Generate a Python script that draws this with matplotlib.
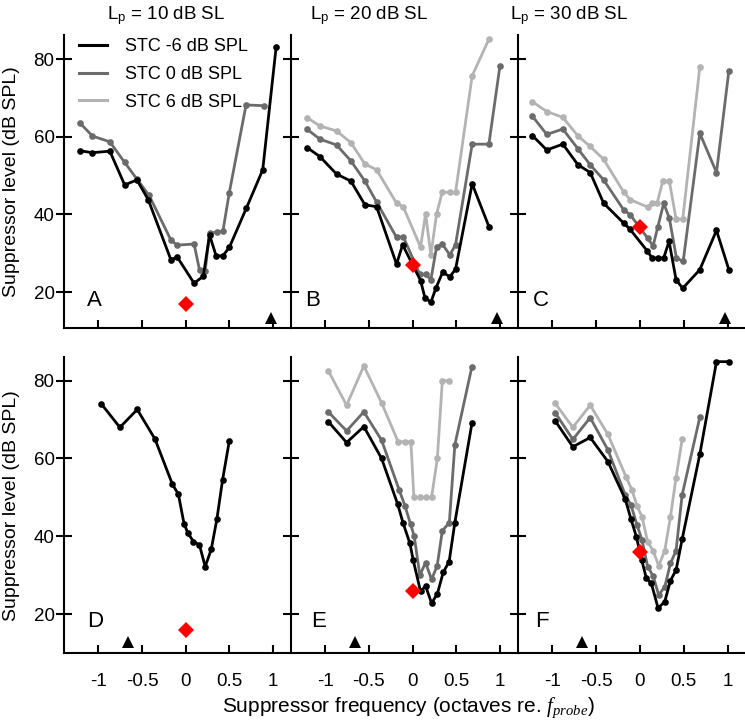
import matplotlib
matplotlib.use("Agg")
import matplotlib.pyplot as plt
from matplotlib.lines import Line2D

plt.rcParams['font.family'] = ['Liberation Sans', 'DejaVu Sans']
plt.rcParams['axes.unicode_minus'] = False
plt.rcParams['mathtext.fontset'] = 'custom'
plt.rcParams['mathtext.rm'] = 'Liberation Sans'
plt.rcParams['mathtext.it'] = 'Liberation Serif:italic'

# --- Dados (oitavas re. f_probe, dB SPL) ---
# Painel A (Lp = 10 dB SL, linha de cima)
xa_k = [-1.21, -1.07, -0.87, -0.70, -0.56, -0.43, -0.17, -0.10, 0.095, 0.20, 0.272, 0.348, 0.425, 0.498, 0.693, 0.881, 1.034]
ya_k = [56.4, 55.9, 56.3, 47.6, 48.9, 43.8, 28.3, 29.1, 22.3, 24.1, 34.7, 29.3, 29.4, 31.5, 41.6, 51.5, 83.0]
xa_g = [-1.21, -1.07, -0.87, -0.70, -0.56, -0.42, -0.17, -0.10, 0.095, 0.157, 0.222, 0.272, 0.356, 0.425, 0.498, 0.690, 0.893]
ya_g = [63.5, 60.2, 58.7, 53.4, 49.1, 44.9, 33.4, 32.1, 32.4, 25.7, 25.5, 35.3, 35.4, 35.7, 45.6, 68.2, 68.0]

# Painel B
xb_k = [-1.204, -1.059, -0.869, -0.705, -0.545, -0.411, -0.183, -0.114, 0.091, 0.141, 0.209, 0.266, 0.343, 0.426, 0.491, 0.681, 0.872]
yb_k = [57.2, 54.9, 50.4, 48.6, 42.5, 42.0, 27.2, 32.2, 23.0, 18.6, 17.4, 21.0, 25.1, 24.0, 25.9, 47.9, 36.9]
xb_g = [-1.204, -1.059, -0.869, -0.705, -0.545, -0.411, -0.183, -0.107, 0.083, 0.149, 0.209, 0.274, 0.339, 0.426, 0.491, 0.681, 0.872, 0.998]
yb_g = [61.9, 59.4, 57.9, 53.8, 48.6, 43.2, 34.1, 34.3, 24.6, 24.6, 23.2, 31.6, 32.4, 29.6, 32.2, 58.1, 58.1, 78.2]
xb_l = [-1.204, -1.059, -0.869, -0.705, -0.545, -0.411, -0.183, -0.107, 0.091, 0.149, 0.209, 0.274, 0.339, 0.426, 0.491, 0.681, 0.872]
yb_l = [64.9, 62.8, 61.5, 58.5, 53.0, 51.5, 42.9, 42.0, 31.6, 40.2, 29.6, 40.1, 45.7, 45.7, 45.7, 75.7, 85.1]

# Painel C
xc_k = [-1.225, -1.061, -0.878, -0.706, -0.566, -0.413, -0.185, -0.116, 0.082, 0.139, 0.204, 0.272, 0.333, 0.413, 0.489, 0.684, 0.874, 1.015]
yc_k = [60.3, 56.6, 58.1, 52.8, 50.8, 42.9, 37.8, 36.3, 30.7, 28.8, 28.8, 28.8, 33.1, 23.2, 21.0, 25.8, 35.9, 25.8]
xc_g = [-1.225, -1.061, -0.878, -0.706, -0.566, -0.413, -0.185, -0.109, 0.089, 0.151, 0.204, 0.272, 0.337, 0.417, 0.494, 0.684, 0.874, 1.015]
yc_g = [65.3, 60.6, 62.0, 56.9, 52.8, 48.9, 41.2, 39.9, 33.9, 31.9, 36.7, 42.9, 39.0, 28.8, 27.9, 60.9, 50.8, 77.0]
xc_l = [-1.225, -1.061, -0.878, -0.706, -0.566, -0.413, -0.185, -0.109, 0.089, 0.139, 0.196, 0.261, 0.337, 0.413, 0.489, 0.684]
yc_l = [69.0, 66.5, 65.0, 60.2, 57.5, 54.2, 45.8, 43.8, 41.9, 42.9, 42.9, 48.5, 48.5, 38.8, 38.8, 78.0]

# Painel D (linha de baixo)
xd_k = [-0.966, -0.755, -0.556, -0.353, -0.154, -0.085, -0.020, 0.023, 0.088, 0.156, 0.222, 0.291, 0.356, 0.421, 0.498]
yd_k = [74.0, 68.0, 72.6, 65.0, 53.4, 50.8, 43.2, 40.9, 38.6, 37.8, 32.2, 36.6, 44.4, 54.5, 64.5]

# Painel E
xe_k = [-0.964, -0.754, -0.557, -0.354, -0.171, -0.107, -0.031, 0.007, 0.091, 0.149, 0.217, 0.283, 0.350, 0.418, 0.483, 0.678]
ye_k = [69.5, 64.1, 68.2, 60.0, 48.3, 43.3, 38.2, 33.9, 25.8, 27.2, 22.8, 25.2, 30.7, 33.5, 43.5, 69.0]
xe_g = [-0.964, -0.754, -0.557, -0.354, -0.153, -0.088, -0.023, 0.018, 0.083, 0.149, 0.217, 0.281, 0.340, 0.420, 0.483, 0.676]
ye_g = [72.0, 67.1, 72.0, 64.7, 51.9, 47.9, 43.1, 40.1, 30.0, 33.2, 28.9, 32.4, 41.4, 43.5, 63.5, 83.4]
xe_l = [-0.964, -0.754, -0.557, -0.354, -0.165, -0.088, -0.019, 0.015, 0.083, 0.149, 0.217, 0.283, 0.340, 0.420]
ye_l = [82.6, 73.7, 83.8, 74.3, 64.3, 64.3, 64.3, 50.0, 50.0, 50.0, 50.0, 60.0, 80.0, 80.0]

# Painel F
xf_k = [-0.966, -0.764, -0.566, -0.364, -0.166, -0.101, -0.040, 0.020, 0.074, 0.131, 0.208, 0.284, 0.349, 0.413, 0.482, 0.684, 0.874, 1.015]
yf_k = [69.7, 63.0, 65.4, 59.2, 49.5, 44.4, 39.9, 34.0, 29.2, 27.9, 21.5, 23.2, 28.6, 31.3, 39.2, 61.1, 84.9, 84.9]
xf_g = [-0.966, -0.764, -0.566, -0.364, -0.166, -0.101, -0.032, 0.025, 0.089, 0.151, 0.215, 0.284, 0.349, 0.413, 0.482, 0.684]
yf_g = [71.8, 64.9, 70.5, 62.2, 50.6, 48.0, 42.9, 39.0, 32.2, 29.8, 24.9, 27.0, 33.0, 36.3, 50.6, 70.6]
xf_l = [-0.966, -0.764, -0.566, -0.364, -0.158, -0.090, -0.032, 0.025, 0.089, 0.151, 0.215, 0.284, 0.349, 0.413, 0.482]
yf_l = [74.2, 68.0, 73.7, 66.2, 55.3, 51.9, 47.8, 45.0, 38.6, 36.3, 32.4, 36.3, 45.0, 55.1, 64.9]

# Nível da sonda (losango vermelho) e marca triangular
probe_level = [17.0, 27.0, 36.9, 15.9, 25.8, 35.9]
tri_x = [0.97, 0.97, 0.97, -0.66, -0.66, -0.66]
tri_y = [13.3, 13.3, 13.3, 12.9, 12.9, 12.9]

titles = ['L$_{\\rm p}$ = 10 dB SL', 'L$_{\\rm p}$ = 20 dB SL', 'L$_{\\rm p}$ = 30 dB SL']
letters = ['A', 'B', 'C', 'D', 'E', 'F']
labels = ['STC -6 dB SPL', 'STC 0 dB SPL', 'STC 6 dB SPL']
colors = ['#000000', '#6b6b6b', '#b3b3b3']

panels = [
    [(xa_k, ya_k), (xa_g, ya_g), None],
    [(xb_k, yb_k), (xb_g, yb_g), (xb_l, yb_l)],
    [(xc_k, yc_k), (xc_g, yc_g), (xc_l, yc_l)],
    [(xd_k, yd_k), None, None],
    [(xe_k, ye_k), (xe_g, ye_g), (xe_l, ye_l)],
    [(xf_k, yf_k), (xf_g, yf_g), (xf_l, yf_l)],
]

# --- Figura ---
W, H = 745, 725
fig = plt.figure(figsize=(W / 100, H / 100), dpi=100)

col_left = [64, 290.5, 517.5]
col_w = [226.5, 227, 227.5]
row_top = [35, 357]
row_bot = [328.3, 653.3]
ylims = [(10.7, 86.2), (9.9, 86.1)]
letter_dx = [0.10, 0.064, 0.068, 0.10, 0.093, 0.077]
title_x = [166, 369, 569]

fs = 13.5
for i in range(6):
    r, c = divmod(i, 3)
    ax = fig.add_axes([col_left[c] / W, 1 - row_bot[r] / H,
                       col_w[c] / W, (row_bot[r] - row_top[r]) / H])
    for k in (2, 1, 0):
        s = panels[i][k]
        if s is None:
            continue
        ax.plot(s[0], s[1], color=colors[k], lw=2.0, marker='o', ms=4.8,
                markeredgewidth=0, zorder=3 + (2 - k))
    ax.plot([0], [probe_level[i]], marker='D', ms=8.5, color='#ff0000',
            markeredgewidth=0, zorder=10)
    ax.plot([tri_x[i]], [tri_y[i]], marker='^', ms=8.5, color='black',
            markeredgewidth=0, zorder=10, clip_on=False)

    ax.set_xlim(-1.395, 1.199)
    ax.set_ylim(*ylims[r])
    ax.set_xticks([-1, -0.5, 0, 0.5, 1])
    ax.set_xticklabels(['-1', '-0.5', '0', '0.5', '1'] if r == 1 else [])
    ax.set_yticks([20, 40, 60, 80])
    if c != 0:
        ax.set_yticklabels([])
    ax.spines['top'].set_visible(False)
    ax.spines['right'].set_visible(False)
    ax.spines['left'].set_linewidth(1.5)
    ax.spines['bottom'].set_linewidth(1.5)
    ax.tick_params(axis='y', direction='inout', length=11.5, width=1.5,
                   labelsize=fs, pad=1)
    ax.tick_params(axis='x', direction='in', length=5.5, width=1.5,
                   labelsize=fs, pad=14)
    ax.patch.set_alpha(0)

    ax.text(letter_dx[i], 0.06 if r == 0 else 0.072, letters[i],
            transform=ax.transAxes, fontsize=16, ha='left', va='bottom')

    if r == 0:
        fig.text(title_x[c] / W, 1 - 16 / H, titles[c],
                 fontsize=fs, ha='center', va='center')

    if i == 0:
        handles = [Line2D([], [], color=colors[k], lw=2.2) for k in range(3)]
        ax.legend(handles, labels, loc='upper left', frameon=False,
                  bbox_to_anchor=(-0.005, 1.045), fontsize=fs - 0.5,
                  handlelength=1.55, handletextpad=1.0, labelspacing=0.6)

for r in range(2):
    yc = 1 - (row_top[r] + row_bot[r]) / 2 / H
    fig.text(12 / W, yc, 'Suppressor level (dB SPL)', rotation=90,
             fontsize=fs + 0.5, ha='center', va='center')

fig.text(408 / W, 1 - 708 / H,
         'Suppressor frequency (octaves re. $f_{probe}$)',
         fontsize=fs + 1.5, ha='center', va='center')

fig.savefig('out.png', dpi=100)
